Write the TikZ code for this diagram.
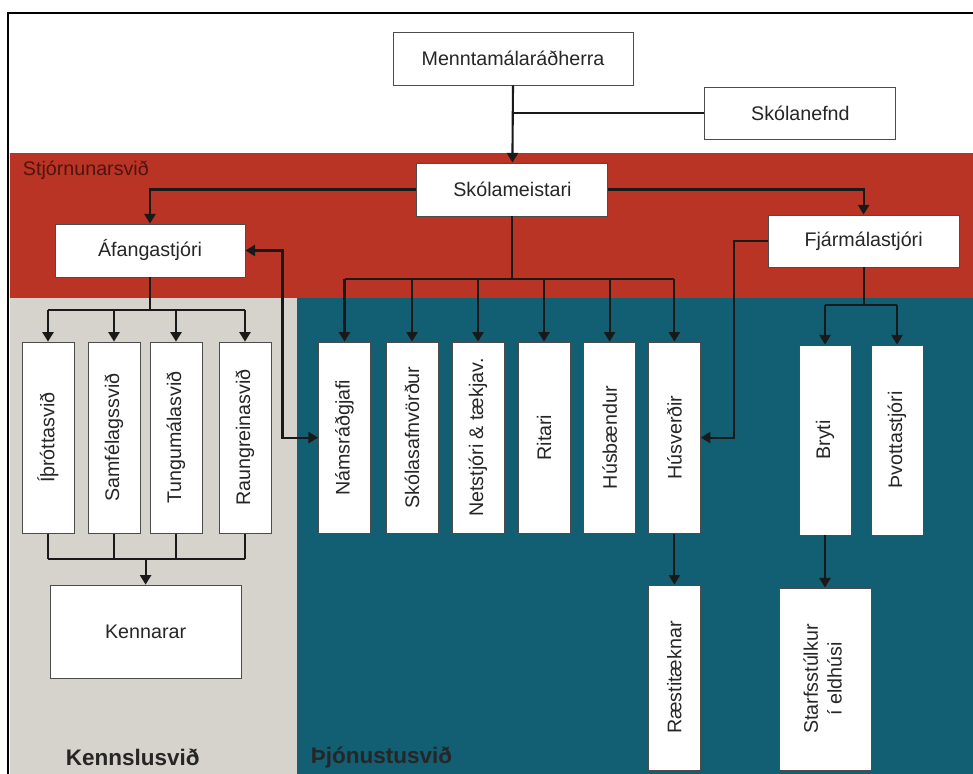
\documentclass[tikz,border=0pt]{standalone}
\usepackage{fontspec}
\setmainfont{Liberation Sans}
\usetikzlibrary{arrows.meta}
\definecolor{stjorn}{RGB}{186,52,37}
\definecolor{kennsla}{RGB}{214,211,204}
\definecolor{thjon}{RGB}{18,94,114}
\definecolor{stjornlabel}{RGB}{80,20,14}
\newcommand{\sidetext}[1]{\rotatebox{90}{#1}}

\begin{document}
\begin{tikzpicture}[
  box/.style={draw=black!70,line width=0.7pt,fill=white,text=black!85,inner sep=2pt,
    font=\fontsize{14}{17}\selectfont},
  hbox/.style={box,minimum width=4.775cm,minimum height=1.325cm},
  vbox/.style={box,minimum width=1.3cm,minimum height=4.775cm},
  conn/.style={line width=1.5pt,black!90},
  arr/.style={conn,-{Triangle[width=0.28cm,length=0.24cm]}},
  area/.style={font=\bfseries\fontsize{16}{19}\selectfont,text=black!85}
]
\useasboundingbox (0,0) rectangle (24.325,-19.35);

% Areas
\fill[stjorn] (0.25,-3.825) rectangle (24.325,-7.45);
\fill[kennsla] (0.25,-7.45) rectangle (7.425,-19.35);
\fill[thjon] (7.425,-7.45) rectangle (24.325,-19.35);
\draw[line width=1.6pt] (0.2,-19.35) -- (0.2,-0.325) -- (24.325,-0.325);

\node[anchor=west,text=stjornlabel,font=\fontsize{14}{17}\selectfont] (mgmt) at (0.45,-4.25) {Stjórnunarsvið};
\node[area,anchor=west] (teach) at (1.52,-18.93) {Kennslusvið};
\node[area,anchor=west] (service) at (7.65,-18.93) {Þjónustusvið};

% Top level
\node[hbox,minimum width=6cm] (minister) at (12.825,-1.4625) {Menntamálaráðherra};
\node[hbox,minimum height=1.3cm] (board) at (20.01,-2.825) {Skólanefnd};
\node[hbox] (head) at (12.81,-4.7375) {Skólameistari};
\node[hbox,minimum width=4.75cm] (afanga) at (3.75,-6.2625) {Áfangastjóri};
\node[hbox,minimum height=1.3cm] (finance) at (21.59,-6.025) {Fjármálastjóri};

% Teaching
\node[vbox] (ithrott) at (1.2,-10.94) {\sidetext{Íþróttasvið}};
\node[vbox] (samfel) at (2.85,-10.94) {\sidetext{Samfélagssvið}};
\node[vbox] (tungu) at (4.4,-10.94) {\sidetext{Tungumálasvið}};
\node[vbox] (raun) at (6.125,-10.94) {\sidetext{Raungreinasvið}};
\node[hbox,minimum height=2.325cm] (kenn) at (3.64,-15.79) {Kennarar};

% Services
\node[vbox] (nams) at (8.6125,-10.94) {\sidetext{Námsráðgjafi}};
\node[vbox] (safn) at (10.3,-10.94) {\sidetext{Skólasafnvörður}};
\node[vbox] (net) at (11.95,-10.94) {\sidetext{Netstjóri \& tækjav.}};
\node[vbox] (ritari) at (13.6,-10.94) {\sidetext{Ritari}};
\node[vbox] (husb) at (15.24,-10.94) {\sidetext{Húsbændur}};
\node[vbox] (husv) at (16.86,-10.94) {\sidetext{Húsverðir}};
\node[vbox,minimum height=4.625cm] (raesti) at (16.86,-16.94) {\sidetext{Ræstitæknar}};
\node[vbox,minimum height=4.75cm] (bryti) at (20.625,-11.0) {\sidetext{Bryti}};
\node[vbox,minimum height=4.75cm] (thvott) at (22.425,-11.0) {\sidetext{Þvottastjóri}};
\node[vbox,minimum width=2.3cm,minimum height=4.55cm] (starfs) at (20.625,-16.975)
  {\sidetext{\begin{tabular}{@{}c@{}}Starfsstúlkur\\í eldhúsi\end{tabular}}};

% Connectors
\draw[arr] (minister.south) -- (head.north);
\draw[conn] (board.west) -- (board.west -| minister.south);
\draw[arr] (head.west) -| (afanga.north);
\draw[arr] (head.east) -| (finance.north);

\coordinate (sbus) at (0,-6.975);
\draw[conn] (head.south) -- (head.south |- sbus);
\draw[conn] (nams.north |- sbus) -- (husv.north |- sbus);
\foreach \n in {nams,safn,net,ritari,husb,husv}
  \draw[arr] (\n.north |- sbus) -- (\n.north);

\coordinate (tbus) at (0,-7.75);
\coordinate (kbus) at (0,-13.975);
\draw[conn] (afanga.south) -- (afanga.south |- tbus);
\draw[conn] (ithrott.north |- tbus) -- (raun.north |- tbus);
\draw[conn] (ithrott.south |- kbus) -- (raun.south |- kbus);
\foreach \n in {ithrott,samfel,tungu,raun}{
  \draw[arr] (\n.north |- tbus) -- (\n.north);
  \draw[conn] (\n.south) -- (\n.south |- kbus);
}
\draw[arr] (kenn.north |- kbus) -- (kenn.north);

\coordinate (fbus) at (0,-7.625);
\draw[conn] (finance.south) -- (finance.south |- fbus);
\draw[conn] (bryti.north |- fbus) -- (thvott.north |- fbus);
\draw[arr] (bryti.north |- fbus) -- (bryti.north);
\draw[arr] (thvott.north |- fbus) -- (thvott.north);

\draw[arr] (finance.west) -- ++(-0.85,0) |- (husv.east);
\draw[arr] (husv.south) -- (raesti.north);
\draw[arr] (bryti.south) -- (starfs.north);
\draw[conn,{Triangle[width=0.28cm,length=0.24cm]}-{Triangle[width=0.28cm,length=0.24cm]}]
  (afanga.east) -- ++(0.925,0) |- (nams.west);
\end{tikzpicture}
\end{document}
